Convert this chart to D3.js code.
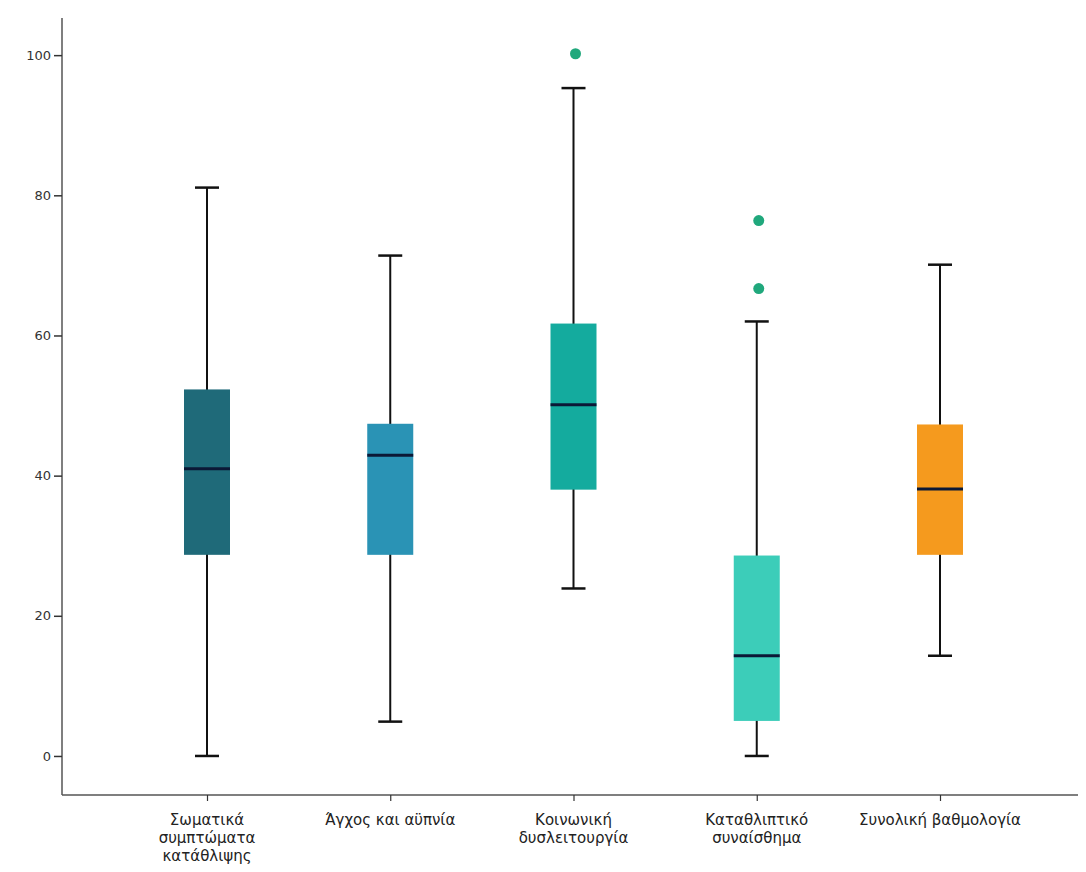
<!DOCTYPE html>
<html>
<head>
<meta charset="utf-8">
<script src="https://cdn.jsdelivr.net/npm/d3@7"></script>
<style>
  html, body { margin: 0; padding: 0; background: #fff; }
  svg { display: block; font-family: "DejaVu Sans", sans-serif; }
</style>
</head>
<body>
<svg id="chart" width="1086" height="872"></svg>
<script>
// ---- data ----
const categories = [
  ["Σωματικά", "συμπτώματα", "κατάθλιψης"],
  ["Άγχος και αϋπνία"],
  ["Κοινωνική", "δυσλειτουργία"],
  ["Καταθλιπτικό", "συναίσθημα"],
  ["Συνολική βαθμολογία"]
];
const whiskerLow  = [0,    4.9,  23.9, 0,    14.3];
const q1Values    = [28.7, 28.7, 38.0, 5.0,  28.7];
const medians     = [41.0, 42.9, 50.1, 14.3, 38.1];
const q3Values    = [52.3, 47.4, 61.7, 28.6, 47.3];
const whiskerHigh = [81.1, 71.4, 95.3, 62.0, 70.1];
const outliers    = [[], [], [100.2], [76.4, 66.7], []];
const boxColors   = ["#1f6a79", "#2a93b5", "#14ab9e", "#3ccdb9", "#f59a1e"];
const yTicks      = [0, 20, 40, 60, 80, 100];

// ---- layout ----
const svg = d3.select("#chart");
const axisX = 62, axisBottom = 795, axisTop = 18, axisRight = 1078;

const keys = categories.map((c, i) => "c" + i);
const x = d3.scalePoint().domain(keys).range([207, 940]);
const y = d3.scaleLinear().domain([-5.57, 105.3]).range([axisBottom, axisTop]);

const boxW = 46, capW = 24;

// axes lines
svg.append("line").attr("x1", axisX).attr("x2", axisX).attr("y1", axisTop).attr("y2", axisBottom)
  .attr("stroke", "#555").attr("stroke-width", 1.5);
svg.append("line").attr("x1", axisX).attr("x2", axisRight).attr("y1", axisBottom).attr("y2", axisBottom)
  .attr("stroke", "#555").attr("stroke-width", 1.5);

// y axis ticks
const yAxis = d3.axisLeft(y).tickValues(yTicks).tickSize(8).tickSizeOuter(0).tickPadding(3);
const gy = svg.append("g").attr("transform", `translate(${axisX},0)`).call(yAxis);
gy.select(".domain").remove();
gy.selectAll(".tick line").attr("stroke", "#333").attr("stroke-width", 1.5);
gy.selectAll(".tick text").attr("fill", "#333").style("font-size", "13px")
  .style("font-family", "'DejaVu Sans', sans-serif");

// x axis ticks
const xAxis = d3.axisBottom(x).tickSize(6).tickSizeOuter(0).tickFormat("");
const gx = svg.append("g").attr("transform", `translate(0,${axisBottom})`).call(xAxis);
gx.select(".domain").remove();
gx.selectAll(".tick line").attr("stroke", "#333").attr("stroke-width", 1.2);

// category labels
keys.forEach((k, i) => {
  const t = svg.append("text").attr("x", x(k)).attr("y", 825)
    .attr("text-anchor", "middle").attr("fill", "#222")
    .style("font-size", "15px");
  categories[i].forEach((line, j) => {
    t.append("tspan").attr("x", x(k)).attr("dy", j === 0 ? 0 : 18).text(line);
  });
});

// boxes
const g = svg.append("g");
keys.forEach((k, i) => {
  const cx = x(k);
  g.append("line").attr("x1", cx).attr("x2", cx)
    .attr("y1", y(whiskerLow[i])).attr("y2", y(whiskerHigh[i]))
    .attr("stroke", "#111").attr("stroke-width", 2);
  [whiskerLow[i], whiskerHigh[i]].forEach(v => {
    g.append("line").attr("x1", cx - capW / 2).attr("x2", cx + capW / 2)
      .attr("y1", y(v)).attr("y2", y(v))
      .attr("stroke", "#111").attr("stroke-width", 2.5);
  });
  g.append("rect").attr("x", cx - boxW / 2).attr("width", boxW)
    .attr("y", y(q3Values[i])).attr("height", y(q1Values[i]) - y(q3Values[i]))
    .attr("fill", boxColors[i]);
  g.append("line").attr("x1", cx - boxW / 2).attr("x2", cx + boxW / 2)
    .attr("y1", y(medians[i])).attr("y2", y(medians[i]))
    .attr("stroke", "#0b1836").attr("stroke-width", 3);
  outliers[i].forEach(v => {
    g.append("circle").attr("cx", cx + 2).attr("cy", y(v)).attr("r", 5.5)
      .attr("fill", "#20a87c");
  });
});
</script>
</body>
</html>
